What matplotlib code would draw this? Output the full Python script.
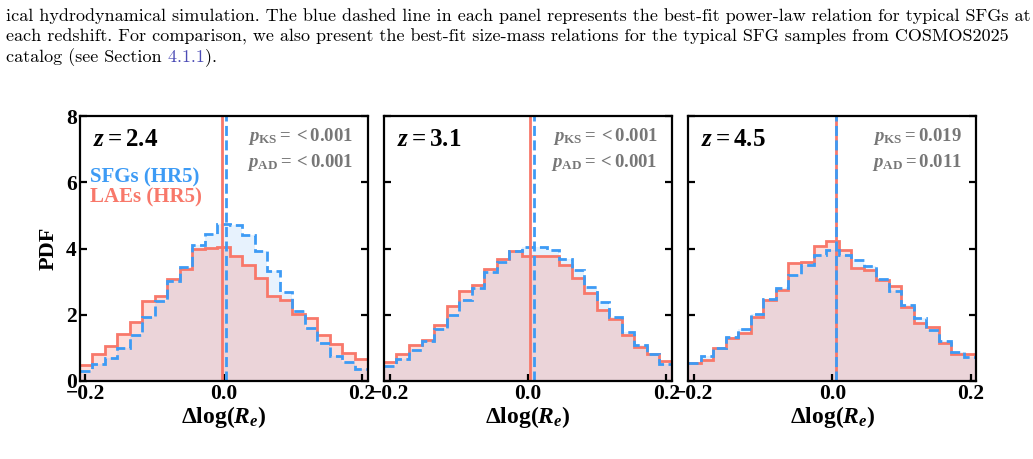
import numpy as np
import matplotlib
matplotlib.use("Agg")
import matplotlib.pyplot as plt

plt.rcParams['font.family'] = 'Liberation Serif'
plt.rcParams['font.weight'] = 'bold'
plt.rcParams['axes.labelweight'] = 'bold'
plt.rcParams['mathtext.fontset'] = 'custom'
plt.rcParams['mathtext.rm'] = 'Liberation Serif:bold'
plt.rcParams['mathtext.bf'] = 'Liberation Serif:bold'
plt.rcParams['mathtext.it'] = 'Liberation Serif:italic:bold'
plt.rcParams['axes.linewidth'] = 1.6

# data (PDF per bin, 23 bins)
redshifts = ["2.4", "3.1", "4.5"]
xlim = 0.208
edges = np.linspace(-xlim, xlim, 24)

sfg_z24 = [0.30, 0.50, 0.70, 1.01, 1.40, 1.93, 2.42, 3.02, 3.45, 4.11, 4.45, 4.75,
           4.70, 4.42, 3.94, 3.33, 2.70, 2.12, 1.59, 1.15, 0.76, 0.56, 0.37]
lae_z24 = [0.49, 0.81, 1.05, 1.41, 1.77, 2.41, 2.56, 3.07, 3.37, 3.98, 4.01, 4.06,
           3.78, 3.51, 3.10, 2.57, 2.44, 2.02, 1.91, 1.40, 1.13, 0.83, 0.65]
sfg_z31 = [0.46, 0.66, 0.93, 1.20, 1.57, 1.99, 2.45, 2.80, 3.29, 3.59, 3.92, 4.04,
           4.04, 3.97, 3.68, 3.36, 2.85, 2.40, 1.94, 1.47, 1.10, 0.80, 0.50]
lae_z31 = [0.56, 0.81, 1.08, 1.23, 1.69, 2.25, 2.72, 2.90, 3.39, 3.69, 3.92, 3.79,
           3.79, 3.77, 3.49, 3.11, 2.65, 2.15, 1.86, 1.39, 1.03, 0.81, 0.60]
sfg_z45 = [0.55, 0.76, 1.01, 1.32, 1.57, 2.01, 2.48, 2.82, 3.21, 3.49, 3.80, 3.97,
           3.82, 3.66, 3.46, 3.09, 2.72, 2.30, 1.91, 1.54, 1.20, 0.88, 0.73]
lae_z45 = [0.53, 0.63, 1.01, 1.29, 1.46, 1.94, 2.45, 2.75, 3.56, 3.59, 4.07, 4.22,
           3.95, 3.41, 3.36, 3.04, 2.88, 2.22, 1.74, 1.64, 1.16, 0.81, 0.81]

sfg_hists = [sfg_z24, sfg_z31, sfg_z45]
lae_hists = [lae_z24, lae_z31, lae_z45]
sfg_median = [0.004, 0.008, 0.006]
lae_median = [-0.002, 0.0025, 0.006]
p_ks = ["<0.001", "<0.001", "0.019"]
p_ad = ["<0.001", "<0.001", "0.011"]

blue = "#3d9bf5"
red = "#f8786a"
dash = (0, (3.6, 1.6))

fig = plt.figure(figsize=(10.33, 4.59), dpi=100)

lefts = [0.077, 0.3717, 0.6663]
axes = []
for i in range(3):
    ax = fig.add_axes([lefts[i], 0.170, 0.2788, 0.577])
    axes.append(ax)
    ax.stairs(sfg_hists[i], edges, fill=True, color=blue, alpha=0.12, lw=0)
    ax.stairs(lae_hists[i], edges, fill=True, color=red, alpha=0.24, lw=0)
    ax.stairs(lae_hists[i], edges, color=red, lw=2.0, baseline=None)
    ax.stairs(sfg_hists[i], edges, color=blue, lw=2.0, ls=dash, baseline=None)
    ax.axvline(lae_median[i], color=red, lw=2.0)
    ax.axvline(sfg_median[i], color=blue, lw=2.0, ls=dash)

    ax.set_xlim(-xlim, xlim)
    ax.set_ylim(0, 8)
    ax.set_xticks([-0.2, 0.0, 0.2])
    ax.set_xticklabels(["\u22120.2", "0.0", "0.2"])
    ax.set_yticks([0, 2, 4, 6, 8])
    ax.tick_params(direction='in', length=5, width=1.6, labelsize=15.5, pad=2,
                   right=True, top=False)
    if i > 0:
        ax.set_yticklabels([])
    ax.set_xlabel(r"$\Delta\log(R_e)$", fontsize=17, labelpad=0)

    ax.text(0.045, 0.91, r"$z = " + redshifts[i] + "$", transform=ax.transAxes,
            fontsize=18, va='center', ha='left')
    ax.text(0.95, 0.922, r"$p_{\rm KS} = " + p_ks[i] + "$", transform=ax.transAxes,
            fontsize=13.5, color="#777777", va='center', ha='right')
    ax.text(0.95, 0.824, r"$p_{\rm AD} = " + p_ad[i] + "$", transform=ax.transAxes,
            fontsize=13.5, color="#777777", va='center', ha='right')

axes[0].set_ylabel("PDF", fontsize=16, labelpad=5)
axes[0].text(0.036, 0.77, "SFGs (HR5)", transform=axes[0].transAxes,
             fontsize=15, color=blue, va='center', ha='left')
axes[0].text(0.036, 0.694, "LAEs (HR5)", transform=axes[0].transAxes,
             fontsize=15, color=red, va='center', ha='left')

# caption text above the figure
cap = dict(family='cmr10', weight='normal', fontsize=13, color='black', va='center')
fig.text(0.006, 1 - 16 / 459, "ical hydrodynamical simulation. The blue dashed line in each panel "
         "represents the best-fit power-law relation for typical SFGs at", **cap)
fig.text(0.006, 1 - 37 / 459, "each redshift. For comparison, we also present the best-fit "
         "size-mass relations for the typical SFG samples from COSMOS2025", **cap)
t = fig.text(0.006, 1 - 57 / 459, "catalog (see Section", **cap)
a = axes[0].annotate(" 4.1.1", xy=(1, 0.5), xycoords=t, annotation_clip=False,
                     family='cmr10', weight='normal', fontsize=13, color='#4b4bb5',
                     va='center', ha='left')
axes[0].annotate(").", xy=(1, 0.5), xycoords=a, annotation_clip=False,
                 family='cmr10', weight='normal', fontsize=13, color='black',
                 va='center', ha='left')

fig.savefig("out.png", dpi=100)
